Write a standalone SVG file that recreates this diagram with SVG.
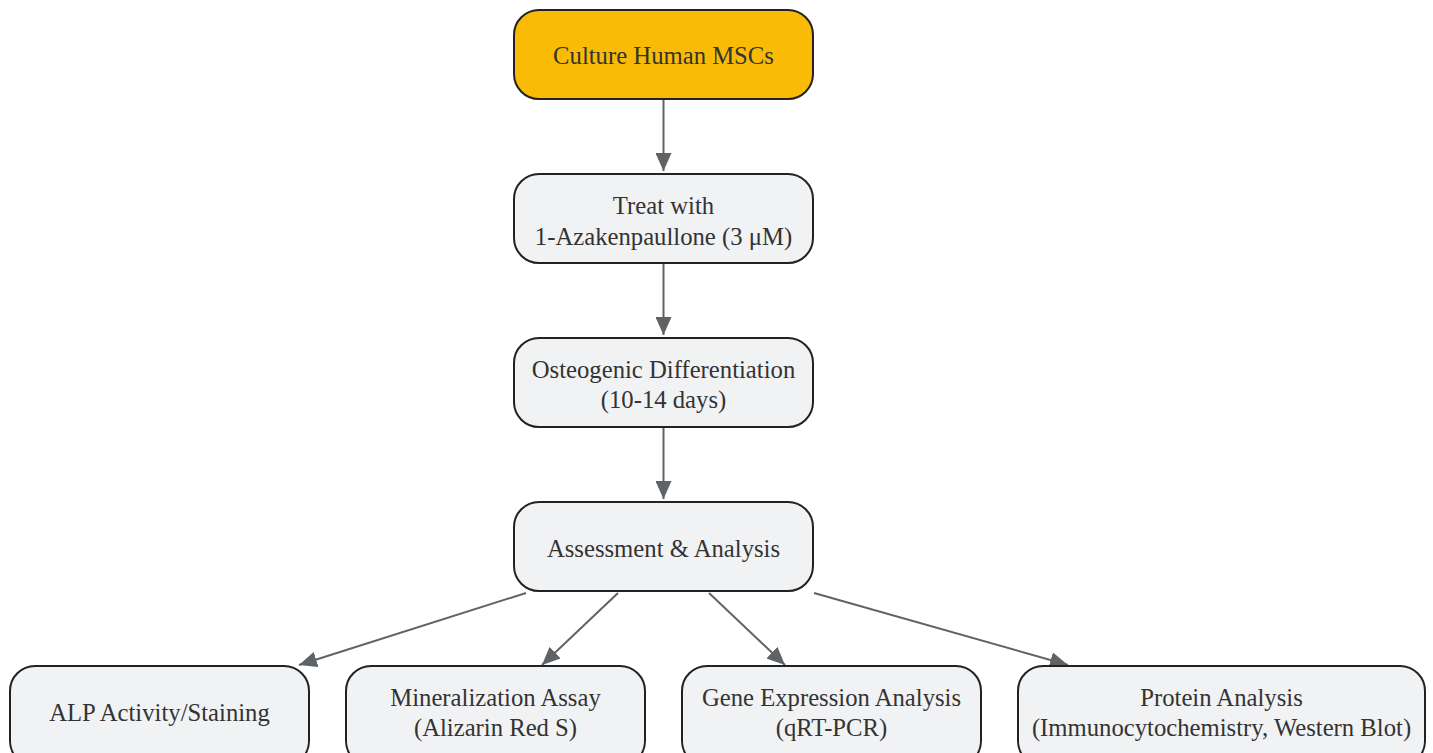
<svg xmlns="http://www.w3.org/2000/svg" width="1433" height="753" viewBox="0 0 1433 753">
<style>
.n rect{fill:#f1f2f4;stroke:#222;stroke-width:2}
.n.top rect{fill:#f9bb05}
.n text{font-family:"Liberation Serif",serif;font-size:24.7px;fill:#333;text-anchor:middle;dominant-baseline:central}
#edges path{stroke:#606366;stroke-width:2;fill:none;marker-end:url(#ah)}
</style>
<defs>
<marker id="ah" viewBox="0 0 18 16" refX="18" refY="8" markerWidth="18" markerHeight="16" markerUnits="userSpaceOnUse" orient="auto">
<path d="M0,0 L18,8 L0,16 z" fill="#606366"/>
</marker>
</defs>
<rect width="1433" height="753" fill="#fff"/>
<g id="edges">
<path d="M663.5,100 V171"/>
<path d="M663.5,264 V335"/>
<path d="M663.5,428 V499"/>
<path d="M526,593 L299,665"/>
<path d="M618,593 L542,665"/>
<path d="M709,593 L785,665"/>
<path d="M814,593 L1068,665"/>
</g>
<g id="n1" class="n top"><rect x="514" y="10" width="299" height="89" rx="25"/><text x="663.5" y="55">Culture Human MSCs</text></g>
<g id="n2" class="n"><rect x="514" y="174" width="299" height="89" rx="25"/><text x="663.5" y="205">Treat with</text><text x="663.5" y="236">1-Azakenpaullone (3 μM)</text></g>
<g id="n3" class="n"><rect x="514" y="338" width="299" height="89" rx="25"/><text x="663.5" y="369">Osteogenic Differentiation</text><text x="663.5" y="399">(10-14 days)</text></g>
<g id="n4" class="n"><rect x="514" y="502" width="299" height="89" rx="25"/><text x="663.5" y="548">Assessment &amp; Analysis</text></g>
<g id="n5" class="n"><rect x="10" y="666" width="299" height="100" rx="25"/><text x="159.5" y="712">ALP Activity/Staining</text></g>
<g id="n6" class="n"><rect x="346" y="666" width="299" height="100" rx="25"/><text x="495.5" y="697">Mineralization Assay</text><text x="495.5" y="727">(Alizarin Red S)</text></g>
<g id="n7" class="n"><rect x="682" y="666" width="299" height="100" rx="25"/><text x="831.5" y="697">Gene Expression Analysis</text><text x="831.5" y="727">(qRT-PCR)</text></g>
<g id="n8" class="n"><rect x="1018" y="666" width="407" height="100" rx="25"/><text x="1221.5" y="697">Protein Analysis</text><text x="1221.5" y="727">(Immunocytochemistry, Western Blot)</text></g>
</svg>
